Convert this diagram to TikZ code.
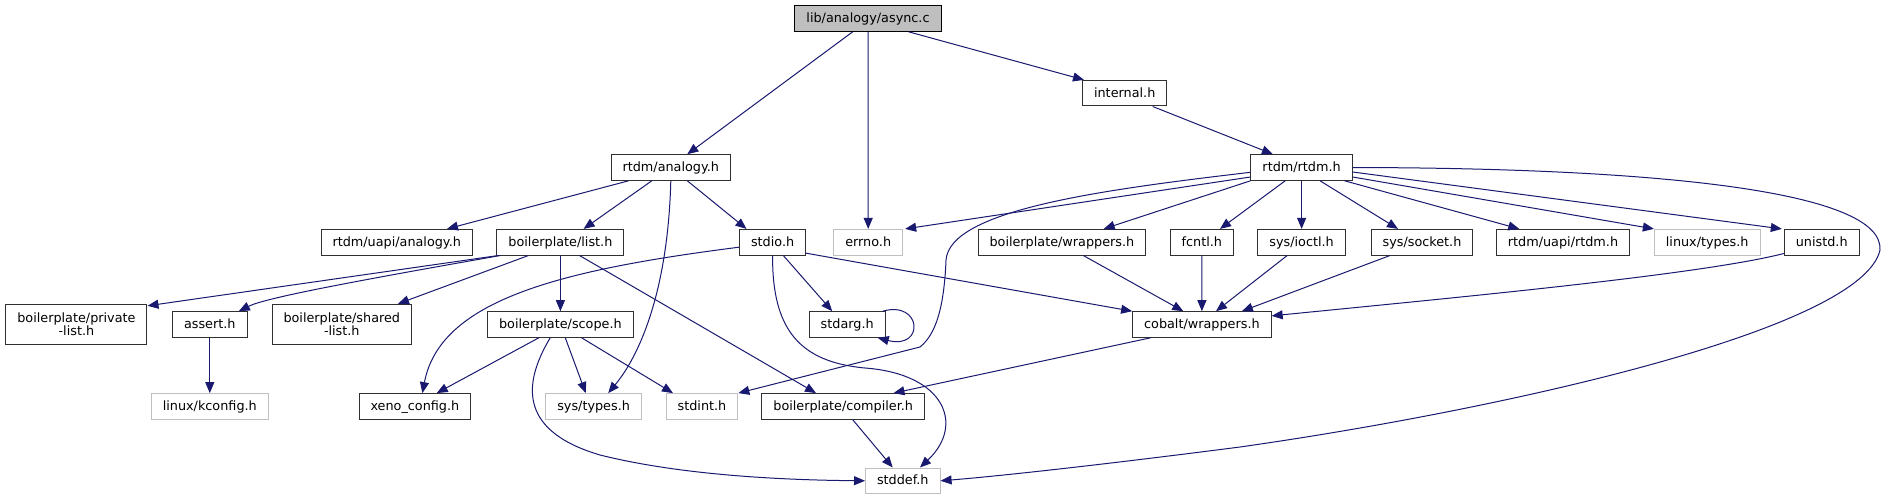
\documentclass[tikz,border=0pt]{standalone}
\usepackage{fontspec}
\setmainfont{DejaVu Sans}
\usetikzlibrary{arrows.meta,calc}
\definecolor{edgec}{HTML}{191970}
\definecolor{extc}{HTML}{BFBFBF}
\definecolor{bord}{HTML}{303030}
\begin{document}
\begin{tikzpicture}[x=1pt,y=-1pt,
  base/.style={draw=bord, line width=1pt, fill=white, inner xsep=11.5pt, inner ysep=0pt,
    font=\fontsize{12.8}{13.6}\selectfont},
  nb/.style={base, minimum height=25.6pt, text height=9.7pt, text depth=1.8pt},
  nb2/.style={base, minimum height=40pt, align=center},
  ext/.style={nb, draw=extc},
  root/.style={nb, draw=black, fill=extc},
  e/.style={draw=edgec, line width=1pt, -{Triangle[length=11pt,width=9pt]}}]
\useasboundingbox (0,0) rectangle (1884,500);
\fill[white] (0,0) rectangle (1884,500);
% nodes
\node[root] (async) at (868,18.5) {lib/analogy/async.c};
\node[nb] (internal) at (1124.7,93.2) {internal.h};
\node[nb] (analogy) at (670.8,167.5) {rtdm/analogy.h};
\node[nb] (rtdm) at (1301.6,167.5) {rtdm/rtdm.h};
\node[nb] (uapiana) at (396.7,242.2) {rtdm/uapi/analogy.h};
\node[nb] (list) at (560.4,242.2) {boilerplate/list.h};
\node[nb] (stdio) at (772.6,242.2) {stdio.h};
\node[ext] (errno) at (868.2,242.2) {errno.h};
\node[nb] (bwrap) at (1061.9,242.2) {boilerplate/wrappers.h};
\node[nb] (fcntl) at (1201.8,242.2) {fcntl.h};
\node[nb] (ioctl) at (1301.6,242.2) {sys/ioctl.h};
\node[nb] (socket) at (1422,242.2) {sys/socket.h};
\node[nb] (uapirtdm) at (1563,242.2) {rtdm/uapi/rtdm.h};
\node[ext] (ltypes) at (1707.2,242.2) {linux/types.h};
\node[nb] (unistd) at (1821.7,242.2) {unistd.h};
\node[nb2] (privlist) at (76.4,324.3) {boilerplate/private\\-list.h};
\node[nb] (assert) at (209.8,324.5) {assert.h};
\node[nb2] (sharedlist) at (341.8,324.3) {boilerplate/shared\\-list.h};
\node[nb] (scope) at (560.4,324.5) {boilerplate/scope.h};
\node[nb] (stdarg) at (847.2,324.5) {stdarg.h};
\node[nb] (cobalt) at (1201.9,324.5) {cobalt/wrappers.h};
\node[ext] (kconfig) at (209.8,406.4) {linux/kconfig.h};
\node[nb] (xeno) at (414.9,406.4) {xeno\_config.h};
\node[ext] (systypes) at (593.6,406.4) {sys/types.h};
\node[ext] (stdint) at (702,406.4) {stdint.h};
\node[nb] (compiler) at (843.2,406.4) {boilerplate/compiler.h};
\node[ext] (stddef) at (902.8,480.8) {stddef.h};
% edges
\draw[e] ([xshift=-15.3pt]async.south) -- ([xshift=16.5pt]analogy.north);
\draw[e] (async.south) -- (errno.north);
\draw[e] ([xshift=40.6pt]async.south) -- ([xshift=-40.7pt]internal.north);
\draw[e] ([xshift=28pt]internal.south) -- ([xshift=-28.7pt]rtdm.north);
\draw[e] ([xshift=-42.2pt]analogy.south) -- ([xshift=50.3pt]uapiana.north);
\draw[e] ([xshift=-19pt]analogy.south) -- ([xshift=23.2pt]list.north);
\draw[e] ([xshift=16.5pt]analogy.south) -- ([xshift=-26.1pt]stdio.north);
\draw[e] (analogy.south) .. controls (668,290) and (640,355) .. ([xshift=14.6pt]systypes.north);
\draw[e] ([xshift=2pt]list.south west) -- ([yshift=-2pt]privlist.north east);
\draw[e] ([xshift=4pt]list.south west) .. controls (350,282) and (265,298) .. ([xshift=29pt]assert.north);
\draw[e] ([xshift=-31.9pt]list.south) -- ([xshift=56.2pt]sharedlist.north);
\draw[e] (list.south) -- (scope.north);
\draw[e] ([xshift=19.1pt]list.south) -- ([xshift=-27.2pt]compiler.north);
\draw[e] ([yshift=-5pt]stdio.west) .. controls (560,270) and (440,300) .. ([xshift=7.5pt]xeno.north);
\draw[e] ([xshift=10.7pt]stdio.south) -- ([xshift=-15pt]stdarg.north);
\draw[e] ([yshift=-11pt]stdio.east) -- (cobalt.north west);
\draw[e] (stdio.south) .. controls (772,330) and (800,362) .. (865,368)
  .. controls (945,374) and (965,425) .. ([xshift=17.2pt]stddef.north);
\draw[e] ([xshift=-3pt]stdarg.north east) .. controls (922,300) and (925,350) .. ([xshift=-8pt]stdarg.south east);
\draw[e] ([yshift=-9.5pt]rtdm.west) -- ([xshift=2pt]errno.north east);
\draw[e] ([yshift=-4.8pt]rtdm.west) .. controls (1100,190) and (950,210) .. (946,260)
  .. controls (944,310) and (935,335) .. (920,347) -- (stdint.north east);
\draw[e] (rtdm.south west) -- ([xshift=41.8pt]bwrap.north);
\draw[e] ([xshift=-16.4pt]rtdm.south) -- ([xshift=18.2pt]fcntl.north);
\draw[e] (rtdm.south) -- (ioctl.north);
\draw[e] ([xshift=18.4pt]rtdm.south) -- ([xshift=-24pt]socket.north);
\draw[e] ([xshift=43pt]rtdm.south) -- ([xshift=-43.7pt]uapirtdm.north);
\draw[e] ([yshift=-9.5pt]rtdm.east) -- (ltypes.north west);
\draw[e] ([yshift=-4.5pt]rtdm.east) -- ([xshift=-2pt]unistd.north west);
\draw[e] (rtdm.east) .. controls (1650,168) and (1884,190) .. (1880,250)
  .. controls (1862,330) and (1500,410) .. (1240,447)
  .. controls (1100,465) and (1000,476) .. (stddef.east);
\draw[e] ([xshift=21.4pt]bwrap.south) -- ([xshift=-18.6pt]cobalt.north);
\draw[e] (fcntl.south) -- (cobalt.north);
\draw[e] ([xshift=-14.4pt]ioctl.south) -- ([xshift=14.1pt]cobalt.north);
\draw[e] ([xshift=-32pt]socket.south) -- ([xshift=40pt]cobalt.north);
\draw[e] ([yshift=2pt]unistd.south west) .. controls (1700,275) and (1450,298) .. ([yshift=-4.7pt]cobalt.north east);
\draw[e] ([xshift=-51.3pt]cobalt.south) -- ([xshift=50.3pt]compiler.north);
\draw[e] ([xshift=9.5pt]compiler.south) -- ([xshift=-10.1pt]stddef.north);
\draw[e] (assert.south) -- (kconfig.north);
\draw[e] ([xshift=-21.6pt]scope.south) -- ([xshift=21.8pt]xeno.north);
\draw[e] ([xshift=4.9pt]scope.south) -- ([xshift=-7.9pt]systypes.north);
\draw[e] ([xshift=21.2pt]scope.south) -- ([xshift=-29pt]stdint.north);
\draw[e] ([xshift=-10.2pt]scope.south) .. controls (525,380) and (515,430) .. (600,455)
  .. controls (680,475) and (780,480) .. (stddef.west);
\end{tikzpicture}
\end{document}
